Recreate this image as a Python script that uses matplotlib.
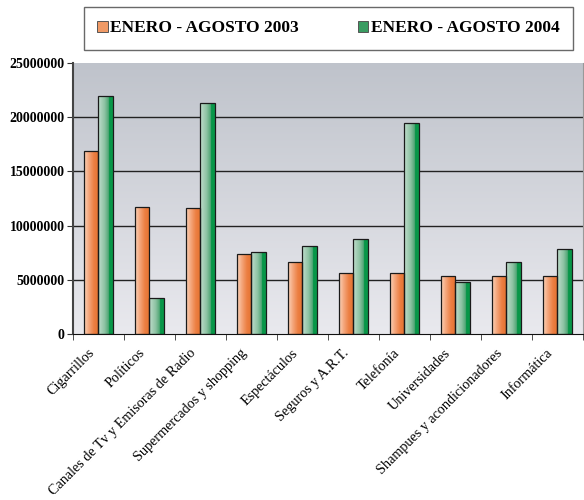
import matplotlib
matplotlib.use("Agg")
import matplotlib.pyplot as plt
import matplotlib.transforms as mtransforms
import numpy as np
from matplotlib.colors import LinearSegmentedColormap
from matplotlib.patches import Rectangle

# data
categories = [
    "Cigarrillos", "Políticos", "Canales de Tv y Emisoras de Radio",
    "Supermercados y shopping", "Espectáculos", "Seguros y A.R.T.",
    "Telefonía", "Universidades", "Shampues y acondicionadores", "Informática",
]
values_2003 = [16900000, 11700000, 11650000, 7400000, 6650000,
               5600000, 5600000, 5350000, 5350000, 5350000]
values_2004 = [21950000, 3350000, 21350000, 7550000, 8150000,
               8750000, 19500000, 4800000, 6600000, 7850000]
series_labels = ["ENERO - AGOSTO 2003", "ENERO - AGOSTO 2004"]
y_ticks = [0, 5000000, 10000000, 15000000, 20000000, 25000000]

plt.rcParams["font.family"] = ["Liberation Serif", "DejaVu Serif"]

orange_cmap = LinearSegmentedColormap.from_list(
    "orange", ["#fbd3b8", "#f4a57a", "#ec7f42", "#e47230"])
green_cmap = LinearSegmentedColormap.from_list(
    "green", [(0.0, "#c2dece"), (0.45, "#8cc2a2"), (0.72, "#4fa574"),
              (0.75, "#069447"), (1.0, "#0a9a4a")])
bg_cmap = LinearSegmentedColormap.from_list("bg", ["#e9e9ee", "#bfc3cb"])

fig = plt.figure(figsize=(5.84, 5.00), dpi=100)
ax = fig.add_axes([0.125, 0.332, 0.873, 0.542])

x = np.arange(len(categories))
width = 0.29

# background gradient
grad = np.linspace(0, 1, 256).reshape(-1, 1)
ax.imshow(grad, cmap=bg_cmap, aspect="auto", origin="lower",
          extent=[-0.5, len(categories) - 0.5, 0, 25000000], zorder=0)

for yt in y_ticks[1:-1]:
    ax.axhline(yt, color="#222222", lw=1.0, zorder=1)

hgrad = np.linspace(0, 1, 64).reshape(1, -1)


def gradient_bars(xpos, vals, cmap, label):
    bars = ax.bar(xpos, vals, width, facecolor="none", edgecolor="#1a1a1a",
                  lw=0.9, zorder=3, label=label)
    for b in bars:
        x0, w, h = b.get_x(), b.get_width(), b.get_height()
        im = ax.imshow(hgrad, cmap=cmap, aspect="auto",
                       extent=[x0, x0 + w, 0, h], zorder=2)
        im.set_clip_path(Rectangle((x0, 0), w, h, transform=ax.transData))
    return bars


gradient_bars(x - width / 2, values_2003, orange_cmap, series_labels[0])
gradient_bars(x + width / 2, values_2004, green_cmap, series_labels[1])

ax.set_xlim(-0.5, len(categories) - 0.5)
ax.set_ylim(0, 25000000)

ax.set_yticks(y_ticks)
ax.set_yticklabels([str(v) for v in y_ticks], fontsize=10, fontweight="bold")
ax.set_xticks(np.arange(len(categories) + 1) - 0.5, minor=True)
ax.set_xticks(x)
ax.set_xticklabels(categories, rotation=45, ha="right", rotation_mode="anchor",
                   fontsize=10.2)
ax.tick_params(axis="x", which="major", length=0, pad=9)
ax.tick_params(axis="x", which="minor", length=4, color="#333333")
ax.tick_params(axis="y", length=4, color="#333333", pad=2)

# nudge the rotated labels left, like the original
shift = mtransforms.ScaledTranslation(-0.11, 0, fig.dpi_scale_trans)
for lbl in ax.get_xticklabels():
    lbl.set_transform(lbl.get_transform() + shift)

ax.spines["top"].set_visible(False)
ax.spines["right"].set_color("#999999")
ax.spines["left"].set_color("#444444")
ax.spines["left"].set_linewidth(1.5)
ax.spines["bottom"].set_color("#111111")

# legend in a box above the plot
handles = [
    Rectangle((0, 0), 1, 1, facecolor="#f09a66", edgecolor="#555555", lw=0.7),
    Rectangle((0, 0), 1, 1, facecolor="#3a9c62", edgecolor="#555555", lw=0.7),
]
leg = fig.legend(handles, series_labels, loc="center",
                 bbox_to_anchor=(0.5625, 0.943), ncol=2, frameon=True,
                 fancybox=False, edgecolor="#444444", handlelength=0.6,
                 handleheight=0.6, handletextpad=0.15, columnspacing=3.4,
                 borderpad=0.75,
                 prop={"size": 12.5, "weight": "bold"})
leg.get_frame().set_linewidth(1.0)

fig.savefig("out.png", dpi=100)
